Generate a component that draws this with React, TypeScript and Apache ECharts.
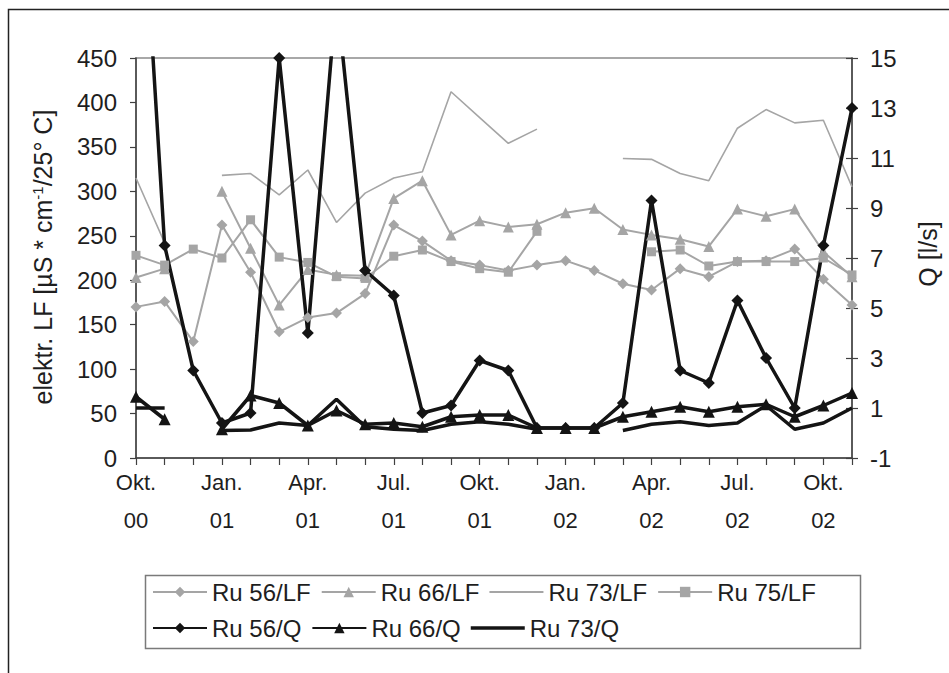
import React, { useEffect, useRef } from "react";
import * as echarts from "echarts";

// Monthly sampling, October 2000 to November 2002
const categories = [
  "Okt.\n00", "Nov.\n00", "Dez.\n00",
  "Jan.\n01", "Feb.\n01", "Mär.\n01", "Apr.\n01", "Mai\n01", "Jun.\n01",
  "Jul.\n01", "Aug.\n01", "Sep.\n01", "Okt.\n01", "Nov.\n01", "Dez.\n01",
  "Jan.\n02", "Feb.\n02", "Mär.\n02", "Apr.\n02", "Mai\n02", "Jun.\n02",
  "Jul.\n02", "Aug.\n02", "Sep.\n02", "Okt.\n02", "Nov.\n02",
];

// Electrical conductivity [µS/cm at 25 °C] (left axis)
const ru56LF = [170, 176, 131, 262, 209, 142, 158, 163, 185, 262, 244, 222, 217, 211, 217, 222, 211, 196, 189, 213, 204, 221, 222, 235, 201, 172];
const ru66LF = [203, 213, null, 300, 236, 172, 212, 206, 205, 292, 312, 251, 267, 260, 263, 276, 281, 257, 251, 246, 238, 280, 272, 280, 232, 204];
const ru73LF = [315, 242, null, 318, 320, 296, 324, 265, 298, 315, 322, 412, 383, 354, 370, null, null, 337, 336, 320, 312, 371, 392, 377, 380, 305];
const ru75LF = [228, 217, 235, 225, 268, 226, 220, 204, 202, 227, 234, 221, 213, 209, 255, null, null, null, 232, 234, 216, 221, 221, 221, 225, 206];

// Discharge Q [l/s] (right axis)
const ru56Q = [26, 7.5, 2.5, 0.4, 0.8, 15, 4.0, 17.5, 6.5, 5.5, 0.8, 1.1, 2.9, 2.5, 0.2, 0.2, 0.2, 1.2, 9.3, 2.5, 2.0, 5.3, 3.0, 1.0, 7.5, 13.0];
const ru66Q = [1.45, 0.55, null, 0.15, 1.5, 1.2, 0.3, 0.9, 0.35, 0.4, 0.25, 0.65, 0.72, 0.72, 0.2, 0.2, 0.2, 0.65, 0.85, 1.05, 0.85, 1.05, 1.15, 0.65, 1.1, 1.6];
const ru73Q = [1.0, 1.0, null, 0.1, 0.12, 0.4, 0.3, 1.35, 0.25, 0.15, 0.1, 0.35, 0.45, 0.35, 0.15, null, null, 0.1, 0.35, 0.45, 0.3, 0.4, 1.1, 0.15, 0.4, 1.0];

const qTicks = [-1, 1, 3, 5, 7, 9, 11, 13, 15];

const FONT = "'Liberation Sans', Arial, sans-serif";
const GRAY = "#a5a5a5";
const BLACK = "#141414";
const TEXT = "#1e1e1e";
const AXIS = "#404040";

function lfSeries(name: string, data: (number | null)[], symbol: string, size: number, width: number) {
  return {
    name,
    type: "line",
    yAxisIndex: 0,
    data,
    symbol,
    symbolSize: size,
    showSymbol: symbol !== "none",
    connectNulls: false,
    lineStyle: { color: GRAY, width },
    itemStyle: { color: GRAY, borderWidth: 0 },
    emphasis: { disabled: true },
  };
}

function qSeries(name: string, data: (number | null)[], symbol: string, size: number) {
  return {
    name,
    type: "line",
    yAxisIndex: 1,
    data,
    symbol,
    symbolSize: size,
    showSymbol: symbol !== "none",
    connectNulls: false,
    lineStyle: { color: BLACK, width: 3.5 },
    itemStyle: { color: BLACK, borderWidth: 0 },
    emphasis: { disabled: true },
  };
}

const legendCommon = {
  left: 147,
  itemWidth: 54,
  itemHeight: 13,
  itemGap: 10,
  selectedMode: false,
  textStyle: { fontFamily: FONT, fontSize: 24, color: TEXT, width: 106 },
};

export default function App() {
  const ref = useRef<HTMLDivElement>(null);

  useEffect(() => {
    if (!ref.current) return;
    const chart = echarts.init(ref.current, null, { renderer: "svg" });
    chart.setOption({
      animation: false,
      backgroundColor: "#ffffff",
      textStyle: { fontFamily: FONT },
      grid: {
        left: 136,
        right: 97,
        top: 58,
        height: 400,
        show: true,
        borderColor: "#8c8c8c",
        borderWidth: 1.5,
      },
      xAxis: {
        type: "category",
        data: categories,
        boundaryGap: false,
        axisLine: { lineStyle: { color: AXIS, width: 1.5 } },
        axisTick: { interval: 0, length: 7, lineStyle: { color: AXIS, width: 1.2 } },
        axisLabel: {
          interval: 2,
          fontSize: 22,
          lineHeight: 38,
          margin: 5,
          color: TEXT,
          fontFamily: FONT,
        },
        splitLine: { show: false },
      },
      yAxis: [
        {
          type: "value",
          position: "left",
          min: 0,
          max: 450,
          interval: 50,
          axisLine: { show: true, lineStyle: { color: AXIS, width: 1.5 } },
          axisTick: { show: true, length: 6, lineStyle: { color: AXIS, width: 1.2 } },
          axisLabel: { fontSize: 24, margin: 19, color: TEXT, fontFamily: FONT },
          splitLine: { show: false },
        },
        {
          type: "value",
          position: "right",
          min: -1,
          max: 15,
          axisLine: { show: true, lineStyle: { color: AXIS, width: 1.5 } },
          axisTick: { show: true, length: 6, customValues: qTicks, lineStyle: { color: AXIS, width: 1.2 } },
          axisLabel: { fontSize: 24, margin: 18, color: TEXT, fontFamily: FONT, customValues: qTicks },
          splitLine: { show: false },
        },
        {
          // inner half of the crossing ticks on the discharge axis
          type: "value",
          position: "right",
          min: -1,
          max: 15,
          axisLine: { show: false },
          axisTick: { show: true, inside: true, length: 6, customValues: qTicks, lineStyle: { color: AXIS, width: 1.2 } },
          axisLabel: { show: false },
          splitLine: { show: false },
        },
      ],
      legend: [
        {
          ...legendCommon,
          top: 575,
          data: [
            "Ru 56/LF",
            "Ru 66/LF",
            { name: "Ru 73/LF", icon: "path://M0,0L54,0L54,1.8L0,1.8Z" },
            "Ru 75/LF",
          ],
        },
        {
          ...legendCommon,
          top: 611,
          data: [
            "Ru 56/Q",
            "Ru 66/Q",
            { name: "Ru 73/Q", icon: "path://M0,0L54,0L54,3.5L0,3.5Z" },
          ],
        },
      ],
      graphic: [
        {
          type: "rect",
          shape: { x: 8.5, y: 9.5, width: 1000, height: 700 },
          style: { fill: "none", stroke: "#222", lineWidth: 1.5 },
          silent: true,
        },
        {
          type: "rect",
          shape: { x: 145.5, y: 575.5, width: 715, height: 73 },
          style: { fill: "none", stroke: "#7a7a7a", lineWidth: 1.5 },
          silent: true,
        },
        {
          type: "text",
          x: 43,
          y: 257,
          rotation: Math.PI / 2,
          style: {
            text: "{a|elektr. LF [µS * cm}{s|-1}{a|/25° C]}",
            align: "center",
            verticalAlign: "middle",
            textAlign: "center",
            textVerticalAlign: "middle",
            fill: TEXT,
            font: `25px ${FONT}`,
            rich: {
              a: { fontSize: 25, fontFamily: FONT, fill: TEXT, lineHeight: 27 },
              s: { fontSize: 15, fontFamily: FONT, fill: TEXT, verticalAlign: "top", lineHeight: 27 },
            },
          },
          silent: true,
        },
        {
          type: "text",
          x: 928,
          y: 254,
          rotation: Math.PI / 2,
          style: {
            text: "Q [l/s]",
            align: "center",
            verticalAlign: "middle",
            textAlign: "center",
            textVerticalAlign: "middle",
            fill: TEXT,
            font: `25px ${FONT}`,
          },
          silent: true,
        },
      ],
      series: [
        lfSeries("Ru 56/LF", ru56LF, "diamond", 11, 2),
        lfSeries("Ru 66/LF", ru66LF, "triangle", 11, 2),
        lfSeries("Ru 73/LF", ru73LF, "none", 0, 1.6),
        lfSeries("Ru 75/LF", ru75LF, "rect", 9, 2),
        qSeries("Ru 56/Q", ru56Q, "diamond", 12),
        qSeries("Ru 66/Q", ru66Q, "triangle", 12),
        qSeries("Ru 73/Q", ru73Q, "none", 0),
      ],
    });
    return () => chart.dispose();
  }, []);

  return (
    <div
      ref={ref}
      style={{ position: "absolute", left: 0, top: 0, width: 949, height: 673, background: "#fff" }}
    />
  );
}
